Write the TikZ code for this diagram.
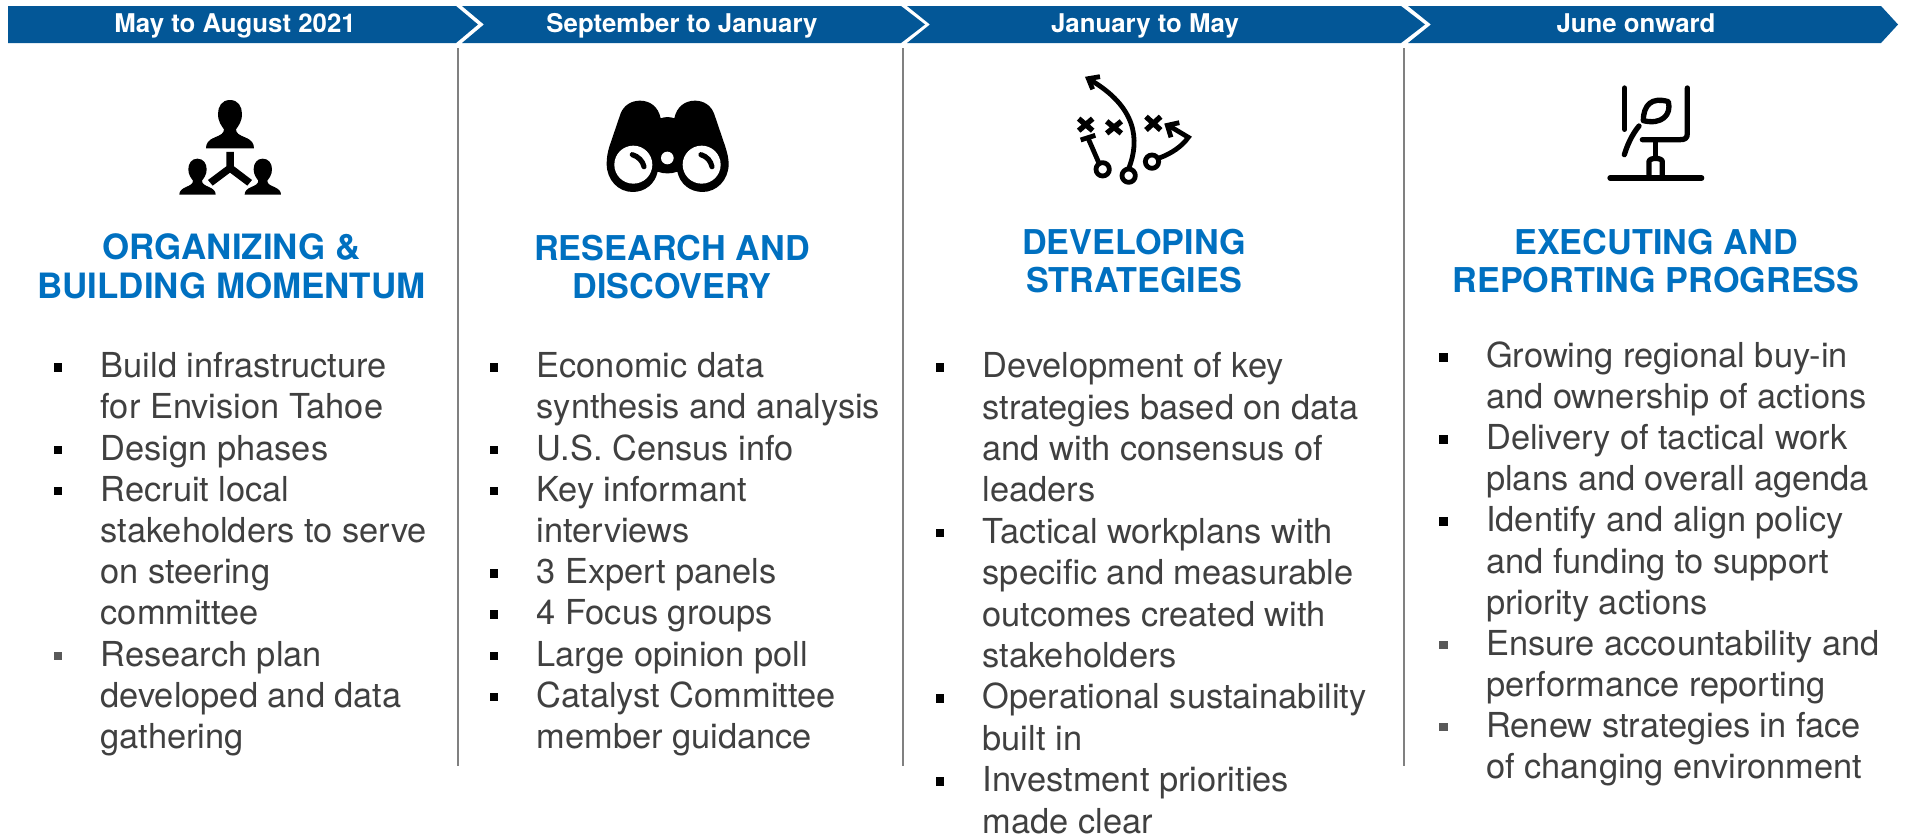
\documentclass[tikz,border=0pt]{standalone}
\usepackage{fontspec}
\setmainfont{TeX Gyre Heros}
\definecolor{bannerblue}{HTML}{035797}
\definecolor{headblue}{HTML}{0070C0}
\definecolor{bodygrey}{HTML}{404040}
\definecolor{bulA}{HTML}{000000}
\definecolor{bulB}{HTML}{595959}
\newcommand{\bul}{\textcolor{bulA}{\rule[6pt]{8.5pt}{8.5pt}}}
\newcommand{\bug}{\textcolor{bulB}{\rule[6pt]{8.5pt}{8.5pt}}}
\newenvironment{blist}[1][41.2]{\fontsize{34.4}{#1}\selectfont\begin{tabular}[t]{@{}p{47pt}@{}l@{}}}{\end{tabular}}
\tikzset{
  band/.style={fill=bannerblue,draw=none},
  bandtext/.style={text=white,font=\bfseries\fontsize{25.8}{28}\selectfont,anchor=base,inner sep=0pt},
  divider/.style={draw=black!50,line width=1.7pt},
  head/.style={text=headblue,font=\bfseries\fontsize{34.2}{38}\selectfont,align=center,anchor=base,inner sep=0pt},
  headwide/.style={text=headblue,font=\bfseries\fontsize{34.9}{39}\selectfont,align=center,anchor=base,inner sep=0pt},
  bodylist/.style={text=bodygrey,anchor=base west,inner sep=0pt},
  iconline/.style={draw=black,line width=4.8pt,line cap=round,line join=round},
  goalline/.style={draw=black,line width=5.3pt,line cap=round,line join=round},
  iconfill/.style={fill=black,draw=none},
}
\begin{document}
\begin{tikzpicture}[x=1pt,y=-1pt]
\useasboundingbox (0,0) rectangle (1905,835);
% banner
\fill[band] (8,6) -- (456,6) -- (478,24.5) -- (456,43) -- (8,43) -- cycle;
\fill[band] (462,6) -- (901,6) -- (925,24.5) -- (901,43) -- (462,43) -- (484,24.5) -- cycle;
\fill[band] (907,6) -- (1401,6) -- (1425,24.5) -- (1401,43) -- (907,43) -- (930,24.5) -- cycle;
\fill[band] (1408,6) -- (1881,6) -- (1898,24.5) -- (1881,43) -- (1408,43) -- (1431,24.5) -- cycle;
\node[bandtext] (b1) at (235,32) {May to August 2021};
\node[bandtext] (b2) at (682,32) {September to January};
\node[bandtext] (b3) at (1145,32) {January to May};
\node[bandtext] (b4) at (1636,32) {June onward};
% dividers
\draw[divider] (458,48) -- (458,766);
\draw[divider] (903,48) -- (903,766);
\draw[divider] (1404,48) -- (1404,766);
% headings
\node[headwide] (h1) at (231.5,298) {ORGANIZING \&\\BUILDING MOMENTUM};
\node[head] (h2) at (672,298) {RESEARCH AND\\DISCOVERY};
\node[head] (h3) at (1134,292) {DEVELOPING\\STRATEGIES};
\node[head] (h4) at (1656,292) {EXECUTING AND\\REPORTING PROGRESS};
% lists
\node[bodylist] (l1) at (53.5,377.7) {\begin{blist}
\bul & Build infrastructure\\
 & for Envision Tahoe\\
\bul & Design phases\\
\bul & Recruit local\\
 & stakeholders to serve\\
 & on steering\\
 & committee\\
\bug & Research plan\\
 & developed and data\\
 & gathering
\end{blist}};
\node[bodylist] (l2) at (489.5,377.7) {\begin{blist}
\bul & Economic data\\
 & synthesis and analysis\\
\bul & U.S. Census info\\
\bul & Key informant\\
 & interviews\\
\bul & 3 Expert panels\\
\bul & 4 Focus groups\\
\bul & Large opinion poll\\
\bul & Catalyst Committee\\
 & member guidance
\end{blist}};
\node[bodylist] (l3) at (935.5,377.7) {\begin{blist}[41.4]
\bul & Development of key\\
 & strategies based on data\\
 & and with consensus of\\
 & leaders\\
\bul & Tactical workplans with\\
 & specific and measurable\\
 & outcomes created with\\
 & stakeholders\\
\bul & Operational sustainability\\
 & built in\\
\bul & Investment priorities\\
 & made clear\\[-10pt]
\end{blist}};
\node[bodylist] (l4) at (1439,367.5) {\begin{blist}[41.1]
\bul & Growing regional buy-in\\
 & and ownership of actions\\
\bul & Delivery of tactical work\\
 & plans and overall agenda\\
\bul & Identify and align policy\\
 & and funding to support\\
 & priority actions\\
\bug & Ensure accountability and\\
 & performance reporting\\
\bug & Renew strategies in face\\
 & of changing environment
\end{blist}};
% icon 1: people
\begin{scope}[shift={(150,90)},x=0.3333pt,y=-0.3333pt]
\fill[iconfill] (240,30) .. controls (215,30) and (204,50) .. (204,72)
 .. controls (204,95) and (215,108) .. (222,118) .. controls (222,130) and (212,135) .. (195,142)
 .. controls (175,150) and (168,160) .. (168,175) -- (312,175)
 .. controls (312,160) and (305,150) .. (285,142) .. controls (268,135) and (258,130) .. (258,118)
 .. controls (265,108) and (276,95) .. (276,72) .. controls (276,50) and (265,30) .. (240,30) -- cycle;
\fill[iconfill] (142,206) .. controls (125,206) and (115,220) .. (115,238)
 .. controls (115,255) and (124,265) .. (129,272) .. controls (129,282) and (120,286) .. (108,291)
 .. controls (95,297) and (88,303) .. (88,314) -- (197,314)
 .. controls (197,303) and (190,297) .. (177,291) .. controls (165,286) and (156,282) .. (156,272)
 .. controls (161,265) and (170,255) .. (170,238) .. controls (170,220) and (160,206) .. (142,206) -- cycle;
\fill[iconfill] (338,206) .. controls (321,206) and (311,220) .. (311,238)
 .. controls (311,255) and (320,265) .. (325,272) .. controls (325,282) and (316,286) .. (304,291)
 .. controls (291,297) and (284,303) .. (284,314) -- (393,314)
 .. controls (393,303) and (386,297) .. (373,291) .. controls (361,286) and (352,282) .. (352,272)
 .. controls (357,265) and (366,255) .. (366,238) .. controls (366,220) and (356,206) .. (338,206) -- cycle;
\fill[iconfill] (229,186) -- (252,186) -- (252,229) -- (306,270) -- (292,287) -- (240,248) -- (188,287) -- (174,270) -- (229,229) -- cycle;
\end{scope}
% icon 2: binoculars
\begin{scope}[shift={(590,90)},x=0.3333pt,y=-0.3333pt]
\fill[iconfill] (50,222) .. controls (50,205) and (52,190) .. (58,170) -- (92,70)
 .. controls (102,45) and (125,32) .. (150,32) .. controls (180,32) and (205,50) .. (212,85)
 .. controls (225,80) and (240,80) .. (253,85) .. controls (260,50) and (285,32) .. (315,32)
 .. controls (340,32) and (362,45) .. (372,70) -- (406,170)
 .. controls (412,190) and (416,205) .. (416,222)
 .. controls (416,270) and (380,306) .. (338,306) .. controls (300,306) and (270,282) .. (262,245)
 .. controls (245,252) and (220,252) .. (203,245) .. controls (195,282) and (165,306) .. (128,306)
 .. controls (85,306) and (50,270) .. (50,222) -- cycle;
\fill[white] (130,224) circle[radius=57];
\fill[white] (335,224) circle[radius=57];
\fill[white] (232,204) circle[radius=19];
\draw[line width=5.2pt,line cap=round] (127,194) .. controls (145,200) and (158,212) .. (162,230);
\draw[line width=5.2pt,line cap=round] (333,194) .. controls (351,200) and (362,212) .. (366,230);
\end{scope}
% icon 3: play
\begin{scope}[shift={(1060,60)},x=0.3333pt,y=-0.3333pt]
\draw[iconline] (206,326) .. controls (240,240) and (230,140) .. (88,58);
\draw[iconline,line cap=butt,line join=miter] (120,50) -- (85,56) -- (98,88);
\draw[iconline,line cap=butt,line width=5.4pt] (56,176) -- (98,212) (98,176) -- (56,212);
\draw[iconline,line cap=butt,line width=5.4pt] (140,184) -- (184,220) (184,184) -- (140,220);
\draw[iconline,line cap=butt,line width=5.4pt] (258,170) -- (302,210) (302,170) -- (258,210);
\draw[iconline,line cap=butt] (62,240) -- (106,226);
\draw[iconline,line cap=butt] (84,234) -- (118,312);
\draw[iconline] (128,328) circle[radius=20];
\draw[iconline] (206,347) circle[radius=20];
\draw[iconline] (276,305) circle[radius=20];
\draw[iconline,line cap=butt,line join=miter] (298,294) .. controls (335,280) and (365,260) .. (385,232) -- (325,196);
\draw[iconline,line cap=butt,line join=miter] (358,188) -- (322,196) -- (333,232);
\end{scope}
% icon 4: goal
\begin{scope}[shift={(1590,70)},x=0.3333pt,y=-0.3333pt]
\draw[goalline] (104,54) -- (104,178);
\draw[goalline] (292,54) -- (292,190) .. controls (292,205) and (285,209) .. (270,209) -- (157,209);
\draw[goalline] (147,168) .. controls (125,195) and (112,225) .. (103,254);
\draw[goalline] (235,95) .. controls (185,80) and (160,105) .. (160,152) .. controls (215,165) and (245,135) .. (235,95) -- cycle;
\draw[goalline] (197,212) -- (197,258);
\draw[goalline] (177,322) -- (177,275) .. controls (177,262) and (217,262) .. (217,275) -- (217,322);
\draw[goalline] (60,324) -- (335,324);
\end{scope}
\end{tikzpicture}
\end{document}
